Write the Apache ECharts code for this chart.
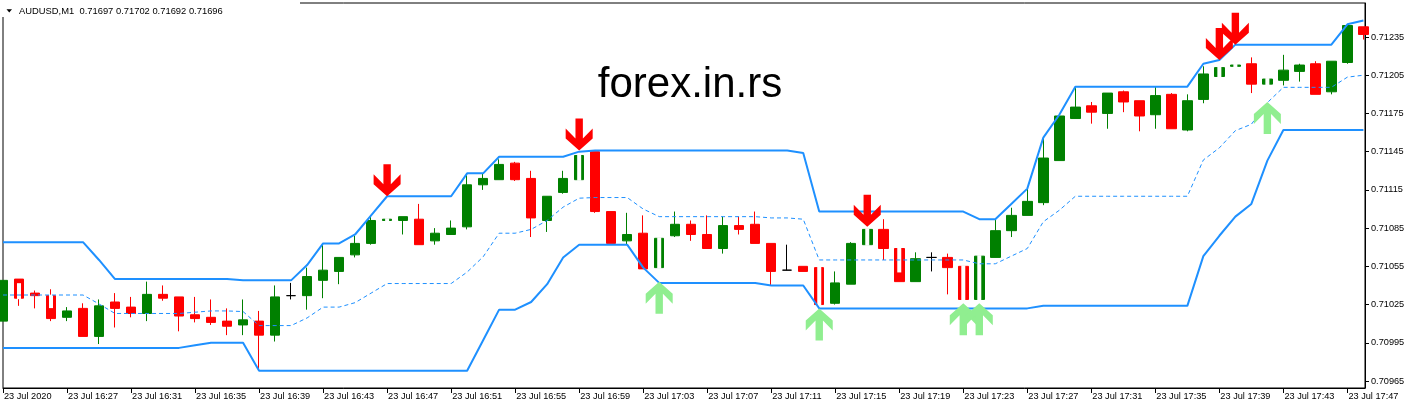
<!DOCTYPE html>
<html><head><meta charset="utf-8">
<script src="https://cdn.jsdelivr.net/npm/echarts@6/dist/echarts.min.js"></script>
<style>html,body{margin:0;padding:0;background:#fff}#c{width:1411px;height:409px}</style>
</head><body><div id="c"></div><script>
// ---- data (AUDUSD M1, 23 Jul 2020 16:23 .. 17:48) ----
const tickBars = [0,4,8,12,16,20,24,28,32,36,40,44,48,52,56,60,64,68,72,76,80,84];
const tickLabels = ['23 Jul 2020','23 Jul 16:27','23 Jul 16:31','23 Jul 16:35','23 Jul 16:39','23 Jul 16:43','23 Jul 16:47','23 Jul 16:51','23 Jul 16:55','23 Jul 16:59','23 Jul 17:03','23 Jul 17:07','23 Jul 17:11','23 Jul 17:15','23 Jul 17:19','23 Jul 17:23','23 Jul 17:27','23 Jul 17:31','23 Jul 17:35','23 Jul 17:39','23 Jul 17:43','23 Jul 17:47'];
const priceTicks = [0.70965,0.70995,0.71025,0.71055,0.71085,0.71115,0.71145,0.71175,0.71205,0.71235];

const opens = [0.71012,0.71045,0.71034,0.71032,0.71015,0.71022,0.71000,0.71027,0.71023,0.71018,
0.71033,0.71031,0.71017,0.71015,0.71012,0.71009,0.71012,0.71001,0.71032,0.71032,
0.71044,0.71051,0.71064,0.71073,0.71091,0.71091,0.71092,0.71075,0.71080,0.71086,
0.71119,0.71123,0.71136,0.71124,0.71091,0.71113,0.71123,0.71145,0.71098,0.71075,
0.71081,0.71054,0.71079,0.71088,0.71080,0.71069,0.71087,0.71088,0.71073,0.71052,
0.71055,0.71054,0.71026,0.71041,0.71072,0.71084,0.71069,0.71043,0.71062,0.71062,
0.71055,0.71029,0.71062,0.71083,0.71095,0.71105,0.71138,0.71171,0.71181,0.71175,
0.71192,0.71185,0.71174,0.71190,0.71162,0.71186,0.71204,0.71212,0.71214,0.71198,
0.71201,0.71208,0.71214,0.71192,0.71215,0.71243];
const closes = [0.71044,0.71030,0.71032,0.71014,0.71020,0.71000,0.71024,0.71022,0.71018,0.71033,
0.71030,0.71016,0.71014,0.71011,0.71008,0.71013,0.71001,0.71031,0.71032,0.71047,
0.71052,0.71062,0.71073,0.71091,0.71092,0.71094,0.71072,0.71081,0.71085,0.71119,
0.71124,0.71135,0.71123,0.71093,0.71110,0.71124,0.71142,0.71098,0.71073,0.71080,
0.71053,0.71077,0.71088,0.71080,0.71069,0.71087,0.71084,0.71073,0.71051,0.71052,
0.71051,0.71025,0.71042,0.71073,0.71084,0.71069,0.71043,0.71061,0.71062,0.71054,
0.71029,0.71063,0.71083,0.71095,0.71106,0.71140,0.71173,0.71180,0.71176,0.71191,
0.71184,0.71173,0.71189,0.71163,0.71185,0.71206,0.71211,0.71213,0.71198,0.71202,
0.71209,0.71213,0.71190,0.71216,0.71244,0.71237];
const lows = [0.71012,0.71024,0.71022,0.71012,0.71012,0.71000,0.70994,0.71007,0.71015,0.71012,
0.71028,0.71004,0.71011,0.71009,0.71001,0.71001,0.70974,0.70996,0.71029,0.71021,
0.71030,0.71041,0.71062,0.71072,0.71091,0.71080,0.71072,0.71072,0.71080,0.71084,
0.71115,0.71123,0.71122,0.71078,0.71082,0.71112,0.71123,0.71097,0.71073,0.71072,
0.71053,0.71054,0.71078,0.71075,0.71069,0.71065,0.71080,0.71073,0.71040,0.71052,
0.71051,0.71025,0.71025,0.71041,0.71072,0.71060,0.71043,0.71043,0.71051,0.71033,
0.71029,0.71029,0.71062,0.71078,0.71095,0.71103,0.71138,0.71171,0.71167,0.71163,
0.71176,0.71161,0.71163,0.71163,0.71161,0.71183,0.71204,0.71212,0.71191,0.71198,
0.71197,0.71200,0.71190,0.71190,0.71214,0.71233];
const highs = [0.71044,0.71045,0.71036,0.71037,0.71023,0.71026,0.71029,0.71034,0.71031,0.71043,
0.71040,0.71031,0.71031,0.71029,0.71022,0.71029,0.71020,0.71040,0.71042,0.71054,
0.71072,0.71062,0.71079,0.71094,0.71092,0.71094,0.71104,0.71085,0.71091,0.71127,
0.71128,0.71139,0.71137,0.71130,0.71110,0.71130,0.71142,0.71145,0.71098,0.71097,
0.71095,0.71077,0.71098,0.71091,0.71095,0.71094,0.71094,0.71098,0.71073,0.71072,
0.71055,0.71054,0.71051,0.71074,0.71084,0.71092,0.71069,0.71066,0.71066,0.71065,
0.71055,0.71063,0.71092,0.71101,0.71116,0.71156,0.71173,0.71196,0.71184,0.71191,
0.71193,0.71185,0.71196,0.71191,0.71190,0.71212,0.71211,0.71213,0.71219,0.71202,
0.71221,0.71214,0.71216,0.71216,0.71244,0.71243];

const upperBand = [0.71074,0.71074,0.71074,0.71074,0.71074,0.71074,0.71060,0.71045,0.71045,0.71045,
0.71045,0.71045,0.71045,0.71045,0.71045,0.71044,0.71044,0.71044,0.71044,0.71056,
0.71073,0.71073,0.71080,0.71095,0.71110,0.71110,0.71110,0.71110,0.71110,0.71128,
0.71128,0.71141,0.71141,0.71141,0.71141,0.71141,0.71145,0.71146,0.71146,0.71146,
0.71146,0.71146,0.71146,0.71146,0.71146,0.71146,0.71146,0.71146,0.71146,0.71146,
0.71144,0.71098,0.71098,0.71098,0.71098,0.71098,0.71098,0.71098,0.71098,0.71098,
0.71098,0.71092,0.71092,0.71104,0.71116,0.71156,0.71174,0.71196,0.71196,0.71196,
0.71196,0.71196,0.71196,0.71196,0.71196,0.71214,0.71217,0.71229,0.71229,0.71229,
0.71229,0.71229,0.71229,0.71229,0.71245,0.71248];
const middleBand = [0.710325,0.710325,0.710325,0.710325,0.710325,0.710325,0.710255,0.71018,0.71018,0.71018,
0.71018,0.71018,0.71019,0.71020,0.71020,0.710195,0.710085,0.710085,0.710085,0.710145,
0.71023,0.71023,0.710265,0.71034,0.710415,0.710415,0.710415,0.710415,0.710415,0.710505,
0.710625,0.71081,0.71081,0.71084,0.71091,0.711015,0.711085,0.71109,0.71109,0.71109,
0.71100,0.71094,0.71094,0.71094,0.71094,0.71094,0.71094,0.71094,0.71093,0.71093,
0.71092,0.71060,0.71060,0.71060,0.71060,0.71060,0.71060,0.71060,0.71060,0.71060,
0.71060,0.71057,0.71057,0.71063,0.71069,0.71090,0.71099,0.71110,0.71110,0.71110,
0.71110,0.71110,0.71110,0.71110,0.71110,0.711385,0.71148,0.711615,0.711665,0.711835,
0.711955,0.711955,0.711955,0.711955,0.712035,0.71205];
const lowerBand = [0.70991,0.70991,0.70991,0.70991,0.70991,0.70991,0.70991,0.70991,0.70991,0.70991,
0.70991,0.70991,0.70993,0.70995,0.70995,0.70995,0.70973,0.70973,0.70973,0.70973,
0.70973,0.70973,0.70973,0.70973,0.70973,0.70973,0.70973,0.70973,0.70973,0.70973,
0.70997,0.71021,0.71021,0.71027,0.71041,0.71062,0.71072,0.71072,0.71072,0.71072,
0.71054,0.71042,0.71042,0.71042,0.71042,0.71042,0.71042,0.71042,0.71040,0.71040,
0.71040,0.71022,0.71022,0.71022,0.71022,0.71022,0.71022,0.71022,0.71022,0.71022,
0.71022,0.71022,0.71022,0.71022,0.71022,0.71024,0.71024,0.71024,0.71024,0.71024,
0.71024,0.71024,0.71024,0.71024,0.71024,0.71063,0.71079,0.71094,0.71104,0.71138,
0.71162,0.71162,0.71162,0.71162,0.71162,0.71162];

// signal arrows: [bar, tip price]
const sellArrows = [[24,0.71110],[36,0.71146],[54,0.71086],[76,0.71217],[77,0.71229]];
const buyArrows  = [[41,0.71043],[51,0.71022],[60,0.71026],[61,0.71026],[79,0.71184]];
// white histogram marks drawn over candle bodies: [bar, top price, bottom price]
const whiteMarks = [[1,0.71041,0.71030],[3,0.71032,0.71023],[24,0.71092,0.71091],[36,0.71142,0.71123],
[41,0.71077,0.71054],[51,0.71054,0.71025],[54,0.71084,0.71072],[56,0.71069,0.71051],
[60,0.71055,0.71029],[61,0.71063,0.71029],[76,0.71211,0.71204],[77,0.71213,0.71212],[79,0.71202,0.71198]];

// ---- chart ----
const FONT = "'Liberation Sans', Arial, sans-serif";
const chart = echarts.init(document.getElementById('c'), null, {renderer:'canvas'});
const candleData = opens.map((o,i)=>{
  const item = {value:[i,o,closes[i],lows[i],highs[i]]};
  if (o === closes[i]) item.itemStyle = {color:'#000',color0:'#000',borderColor:'#000',borderColor0:'#000',borderColorDoji:'#000'};
  return item;
});
const line = (arr)=>arr.map((v,i)=>[i,v]);
const DOWN = 'path://M9.8 0 L17.2 0 L17.2 20 L27 10 L27 20 L13.5 32 L0 20 L0 10 L9.8 20 Z';
const UP = 'path://M9.8 32 L17.2 32 L17.2 12 L27 22 L27 12 L13.5 0 L0 12 L0 22 L9.8 12 Z';

chart.setOption({
  animation:false,
  backgroundColor:'#fff',
  grid:{left:3, top:3, right:46, bottom:21, show:true, borderColor:'#000', borderWidth:1, backgroundColor:'#fff', containLabel:false, outerBoundsMode:'none'},
  xAxis:{type:'value', min:0, max:85.1, interval:4, position:'bottom',
    axisLine:{show:true, onZero:false, lineStyle:{color:'#000', width:1}},
    axisTick:{show:true, length:5, lineStyle:{color:'#000'}, customValues:tickBars},
    axisLabel:{customValues:tickBars, color:'#000', fontSize:9.2, fontFamily:FONT, align:'left', margin:4, padding:[0,0,0,1],
      formatter:(v)=>{const r=Math.round(v); const i=tickBars.indexOf(r); return (Math.abs(v-r)<1e-6 && i>=0)?tickLabels[i]:'';}},
    splitLine:{show:false}},
  yAxis:{type:'value', position:'right', min:0.7095951, max:0.7126169, scale:true,
    axisLine:{show:true, onZero:false, lineStyle:{color:'#000', width:1}},
    axisTick:{show:true, length:4, lineStyle:{color:'#000'}, customValues:priceTicks},
    axisLabel:{customValues:priceTicks, color:'#000', fontSize:9.2, fontFamily:FONT, margin:6, formatter:(v)=>v.toFixed(5)},
    splitLine:{show:false}},
  series:[
    {type:'candlestick', data:candleData, encode:{x:0, y:[1,2,3,4]}, barWidth:10, z:2,
      itemStyle:{color:'#008000', color0:'#ff0000', borderColor:'#008000', borderColor0:'#ff0000', borderColorDoji:'#000', borderWidth:1}},
    {type:'custom', data:whiteMarks, encode:{x:0, y:[1,2]}, z:3, clip:true,
      renderItem:(params, api)=>{
        const a = api.coord([api.value(0), api.value(1)]);
        const b = api.coord([api.value(0), api.value(2)]);
        return {type:'rect', shape:{x:a[0]-2, y:a[1]-1, width:4, height:b[1]-a[1]+2}, style:{fill:'#fff'}};
      }},
    {type:'line', data:line(upperBand), symbol:'none', z:4, lineStyle:{color:'#1E90FF', width:2}},
    {type:'line', data:line(lowerBand), symbol:'none', z:4, lineStyle:{color:'#1E90FF', width:2}},
    {type:'line', data:line(middleBand), symbol:'none', z:4, lineStyle:{color:'#1E90FF', width:1, type:[4,3]}},
    {type:'scatter', data:sellArrows, symbol:DOWN, symbolSize:[27,32], symbolOffset:[0,'-50%'], z:5,
      itemStyle:{color:'#ff0000', opacity:1}},
    {type:'scatter', data:buyArrows, symbol:UP, symbolSize:[27,32], symbolOffset:[0,'50%'], z:5,
      itemStyle:{color:'#90EE90', opacity:1}}
  ],
  graphic:[
    {type:'rect', z:100, shape:{x:0, y:0, width:300, height:17}, style:{fill:'#fff'}},
    {type:'polygon', z:101, shape:{points:[[6.5,9.3],[12,9.3],[9.25,12.6]]}, style:{fill:'#000'}},
    {type:'text', z:101, x:19, y:11, style:{text:'AUDUSD,M1  0.71697 0.71702 0.71692 0.71696', fill:'#000', font:"9.4px 'Liberation Sans', Arial, sans-serif", textVerticalAlign:'middle'}},
    {type:'text', z:101, x:690, y:85, style:{text:'forex.in.rs', fill:'#000', font:"42px 'Liberation Sans', Arial, sans-serif", textAlign:'center', textVerticalAlign:'middle'}}
  ]
});
</script></body></html>
